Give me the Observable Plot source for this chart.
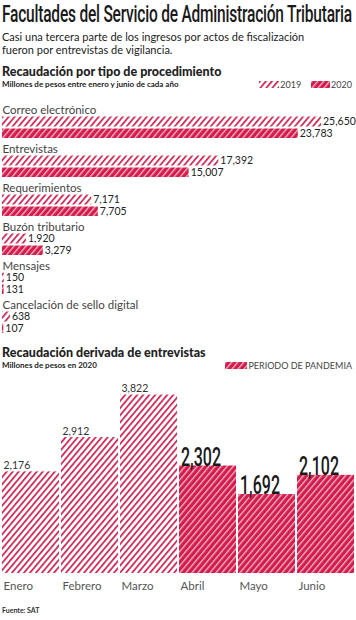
<!DOCTYPE html>
<html>
<head>
<meta charset="utf-8">
<script src="https://cdn.jsdelivr.net/npm/d3@7"></script>
<script src="https://cdn.jsdelivr.net/npm/@observablehq/plot@0.6"></script>
<style>
  html, body { margin: 0; padding: 0; background: #fff; }
  body { width: 356px; height: 620px; overflow: hidden; font-family: Lato, "Noto Sans", sans-serif; color: #222; position: relative; }
  .title { height: 30px; position: relative; }
  .title span { position: absolute; left: 2px; top: 1px; font-family: Roboto, sans-serif; font-weight: 500; font-size: 23px; line-height: 28px; white-space: nowrap; transform-origin: 0 0; color: #1a1a1a; letter-spacing: -0.3px; }
  .sub { font-size: 11px; line-height: 13px; padding-left: 2px; height: 26px; color: #222; }
  .hdr { font-size: 12.5px; font-weight: 900; line-height: 15px; padding-left: 2px; height: 15px; }
  .subhdr { font-size: 8px; font-weight: 700; line-height: 11px; padding-left: 2px; height: 11px; position: relative; }
  .legend { position: absolute; right: 4px; top: 0; font-weight: 400; font-size: 9px; color: #444; display: flex; align-items: center; height: 11px; }
  .legend svg { margin-right: 1px; }
  .foot { position: absolute; left: 2px; top: 606px; font-size: 7px; font-weight: 700; color: #333; }
</style>
</head>
<body>
<svg width="0" height="0" style="position:absolute">
  <defs>
    <pattern id="hatchLight" patternUnits="userSpaceOnUse" width="4.6" height="4.6" patternTransform="rotate(40)">
      <rect width="4.6" height="4.6" fill="#ffffff"></rect>
      <rect x="0" y="0" width="1.7" height="4.6" fill="#d81f50"></rect>
    </pattern>
    <pattern id="hatchDense" patternUnits="userSpaceOnUse" width="4.6" height="4.6" patternTransform="rotate(40)">
      <rect width="4.6" height="4.6" fill="#d41c4c"></rect>
      <rect x="0" y="0" width="1.3" height="4.6" fill="#f7b9c9"></rect>
    </pattern>
  </defs>
</svg>
<div class="title"><span id="title">Facultades del Servicio de Administración Tributaria</span></div>
<div class="sub">Casi una tercera parte de los ingresos por actos de fiscalización<br>fueron por entrevistas de vigilancia.</div>
<div style="height:8px"></div>
<div class="hdr">Recaudación por tipo de procedimiento</div>
<div class="subhdr">Millones de pesos entre enero y junio de cada año
  <div class="legend">
    <svg width="20" height="7"><rect width="20" height="7" fill="url(#hatchLight)"></rect></svg><span>2019</span>
    <span style="width:10px"></span>
    <svg width="19" height="7"><rect width="19" height="7" fill="url(#hatchDense)"></rect></svg><span>2020</span>
  </div>
</div>
<div id="chart1"></div>
<div style="height:9px"></div>
<div class="hdr">Recaudación derivada de entrevistas</div>
<div class="subhdr">Millones de pesos en 2020
  <div class="legend">
    <svg width="22" height="7"><rect width="22" height="7" fill="url(#hatchDense)"></rect></svg><span>PERIODO DE PANDEMIA</span>
  </div>
</div>
<div id="chart2"></div>
<div class="foot">Fuente: SAT</div>
<script>
// ---- Data: chart 1 ----
const categories = ["Correo electrónico", "Entrevistas", "Requerimientos", "Buzón tributario", "Mensajes", "Cancelación de sello digital"];
const values2019 = [25650, 17392, 7171, 1920, 150, 638];
const values2020 = [23783, 15007, 7705, 3279, 131, 107];
const highlighted = ["Entrevistas"];

// ---- Data: chart 2 ----
const months = ["Enero", "Febrero", "Marzo", "Abril", "Mayo", "Junio"];
const monthValues = [2176, 2912, 3822, 2302, 1692, 2102];
const pandemicMonths = ["Abril", "Mayo", "Junio"];

const fmt = d3.format(",");

// Title: condense to the reference width
const t = document.getElementById("title");
t.style.transform = `scaleX(${350 / t.getBoundingClientRect().width})`;

// Chart 1
const rowDomain = categories.flatMap(c => [c + "|label", c + "|2019", c + "|2020"]);
const rows2019 = categories.map((c, i) => ({cat: c, key: c + "|2019", value: values2019[i]}));
const rows2020 = categories.map((c, i) => ({cat: c, key: c + "|2020", value: values2020[i]}));
const labelRows = categories.map(c => ({cat: c, key: c + "|label"}));

const chart1 = Plot.plot({
  width: 356,
  height: 246,
  marginTop: 11.5,
  marginBottom: 0,
  marginLeft: 2,
  marginRight: 35,
  x: {domain: [0, 25650], axis: null},
  y: {domain: rowDomain, padding: 0, axis: null},
  style: {fontFamily: "Lato, 'Noto Sans', sans-serif", overflow: "visible"},
  marks: [
    Plot.barX(rows2019, {x: "value", y: "key", fill: "url(#hatchLight)", insetTop: 1.5, insetBottom: 1.5}),
    Plot.barX(rows2020, {x: "value", y: "key", fill: "url(#hatchDense)", insetTop: 0.5, insetBottom: 3}),
    Plot.text(labelRows, {x: 0, y: "key", text: "cat", textAnchor: "start", dx: 0, dy: 1, fontSize: 11.5, fill: "#444"}),
    Plot.text(rows2019, {x: "value", y: "key", text: d => fmt(d.value), textAnchor: "start", dx: 1.5, fontSize: 10.5, letterSpacing: "-0.5px",
      fontWeight: d => highlighted.includes(d.cat) ? 700 : 400, fill: "#222"}),
    Plot.text(rows2020, {x: "value", y: "key", text: d => fmt(d.value), textAnchor: "start", dx: 1.5, dy: -1, fontSize: 10.5, letterSpacing: "-0.5px",
      fontWeight: d => highlighted.includes(d.cat) ? 700 : 400, fill: "#222"})
  ]
});
document.getElementById("chart1").appendChild(chart1);

// Chart 2
const monthRows = months.map((m, i) => ({month: m, value: monthValues[i], pandemic: pandemicMonths.includes(m)}));
const chart2 = Plot.plot({
  width: 356,
  height: 222,
  marginTop: 15.2,
  marginBottom: 20,
  marginLeft: 2,
  marginRight: 2,
  x: {domain: months, paddingInner: 0.035, paddingOuter: 0, label: null},
  y: {domain: [0, 4000], axis: null},
  style: {fontFamily: "Lato, 'Noto Sans', sans-serif", overflow: "visible"},
  marks: [
    Plot.barY(monthRows, {x: "month", y: "value", fill: d => d.pandemic ? "url(#hatchDense)" : "url(#hatchLight)"}),
    Plot.axisX({tickSize: 0, tickPadding: 8, textAnchor: "start", dx: -27.5, fontSize: 11.5, fill: "#555", label: null}),
    Plot.text(monthRows.filter(d => !d.pandemic), {x: "month", y: "value", text: d => fmt(d.value), textAnchor: "start", lineAnchor: "bottom", dx: -27.5, dy: -3, fontSize: 10.5, letterSpacing: "-0.3px", fill: "#333"}),
    Plot.text(monthRows.filter(d => d.pandemic), {x: "month", y: "value", text: d => fmt(d.value), textAnchor: "start", lineAnchor: "bottom", dx: -27, dy: 0, fontSize: 25, fill: "#1a1a1a", fontWeight: 500,
      fontFamily: "Roboto, sans-serif", className: "bignum"})
  ]
});
document.getElementById("chart2").appendChild(chart2);
// Condense the big numbers like the reference's narrow face
chart2.querySelectorAll(".bignum text").forEach(el => {
  const w = el.getBBox().width;
  const k = 40 / w;
  el.setAttribute("transform", (el.getAttribute("transform") || "") + ` scale(${k},1)`);
});
</script>
</body>
</html>
